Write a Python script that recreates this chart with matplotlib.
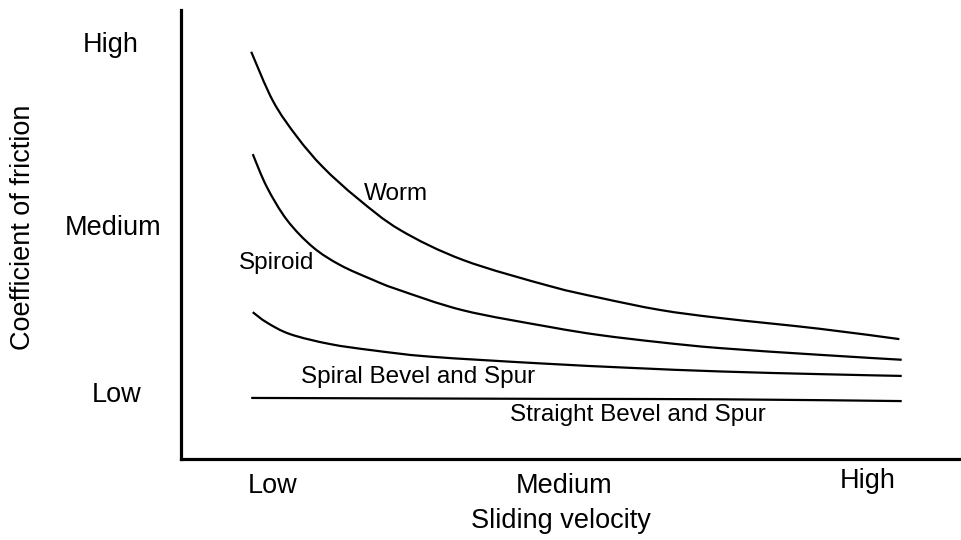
import matplotlib
matplotlib.use("Agg")
import matplotlib.pyplot as plt
from matplotlib.path import Path
from matplotlib.patches import PathPatch

plt.rcParams['font.family'] = ['Liberation Sans', 'DejaVu Sans']

# Friction curves (sliding velocity vs. coefficient of friction, arbitrary 0-10 scale)
worm_x = [0.90, 1.18, 1.49, 1.82, 2.26, 2.81, 3.62, 4.73, 5.37, 6.14, 6.91, 8.19, 9.21]
worm_y = [9.07, 7.97, 7.17, 6.50, 5.81, 5.10, 4.43, 3.85, 3.59, 3.32, 3.14, 2.90, 2.67]

spiroid_x = [0.92, 1.10, 1.36, 1.69, 2.04, 2.46, 2.77, 3.62, 4.73, 5.37, 6.14, 6.91, 8.19, 9.24]
spiroid_y = [6.79, 6.06, 5.32, 4.72, 4.32, 3.99, 3.78, 3.31, 2.94, 2.76, 2.60, 2.47, 2.32, 2.21]

spiral_x = [0.92, 1.10, 1.40, 1.91, 2.46, 3.19, 4.60, 5.76, 6.91, 8.19, 9.24]
spiral_y = [3.27, 3.04, 2.78, 2.56, 2.42, 2.28, 2.13, 2.03, 1.95, 1.89, 1.85]

straight_x = [0.90, 4.60, 6.91, 9.24]
straight_y = [1.36, 1.34, 1.33, 1.29]

curve_names = ["Worm", "Spiroid", "Spiral Bevel and Spur", "Straight Bevel and Spur"]
level_labels = ["Low", "Medium", "High"]
x_title = "Sliding velocity"
y_title = "Coefficient of friction"


def smooth_path(xs, ys):
    """Catmull-Rom curve through the points, expressed as cubic Bezier segments."""
    pts = list(zip(xs, ys))
    verts = [pts[0]]
    codes = [Path.MOVETO]
    n = len(pts)
    for i in range(n - 1):
        p0 = pts[i - 1] if i > 0 else pts[i]
        p1 = pts[i]
        p2 = pts[i + 1]
        p3 = pts[i + 2] if i + 2 < n else pts[i + 1]
        c1 = (p1[0] + (p2[0] - p0[0]) / 6, p1[1] + (p2[1] - p0[1]) / 6)
        c2 = (p2[0] - (p3[0] - p1[0]) / 6, p2[1] - (p3[1] - p1[1]) / 6)
        verts += [c1, c2, p2]
        codes += [Path.CURVE4] * 3
    return Path(verts, codes)


fig = plt.figure(figsize=(9.61, 5.40), dpi=100)
ax = fig.add_axes([181 / 961, 81 / 540, 780 / 961, 449 / 540])
ax.set_xlim(0, 10)
ax.set_ylim(0, 10)

for xs, ys in [(worm_x, worm_y), (spiroid_x, spiroid_y),
               (spiral_x, spiral_y), (straight_x, straight_y)]:
    ax.add_patch(PathPatch(smooth_path(xs, ys), facecolor="none",
                           edgecolor="black", lw=1.6, capstyle="butt"))

for side in ("top", "right"):
    ax.spines[side].set_visible(False)
for side in ("left", "bottom"):
    ax.spines[side].set_linewidth(2.3)
ax.set_xticks([])
ax.set_yticks([])

# curve annotations
label_pos = [(2.76, 5.77), (1.22, 4.23), (3.04, 1.69), (5.86, 0.85)]
for name, (lx, ly) in zip(curve_names, label_pos):
    ax.text(lx, ly, name, ha="center", va="baseline", fontsize=17.5)

# qualitative levels on the y axis
y_level_pos = [(-0.82, 1.27), (-0.87, 4.99), (-0.90, 9.07)]
for lab, (lx, ly) in zip(level_labels, y_level_pos):
    ax.text(lx, ly, lab, ha="center", va="baseline", fontsize=19.5, clip_on=False)

# qualitative levels on the x axis
x_level_pos = [(1.18, -0.76), (4.91, -0.76), (8.81, -0.65)]
for lab, (lx, ly) in zip(level_labels, x_level_pos):
    ax.text(lx, ly, lab, ha="center", va="baseline", fontsize=19.5, clip_on=False)

ax.text(4.87, -1.54, x_title, ha="center", va="baseline", fontsize=19.5, clip_on=False)
ax.text(-2.03, 5.15, y_title, ha="center", va="center", rotation=90,
        fontsize=19.5, clip_on=False)

fig.savefig("out.png", dpi=100)
